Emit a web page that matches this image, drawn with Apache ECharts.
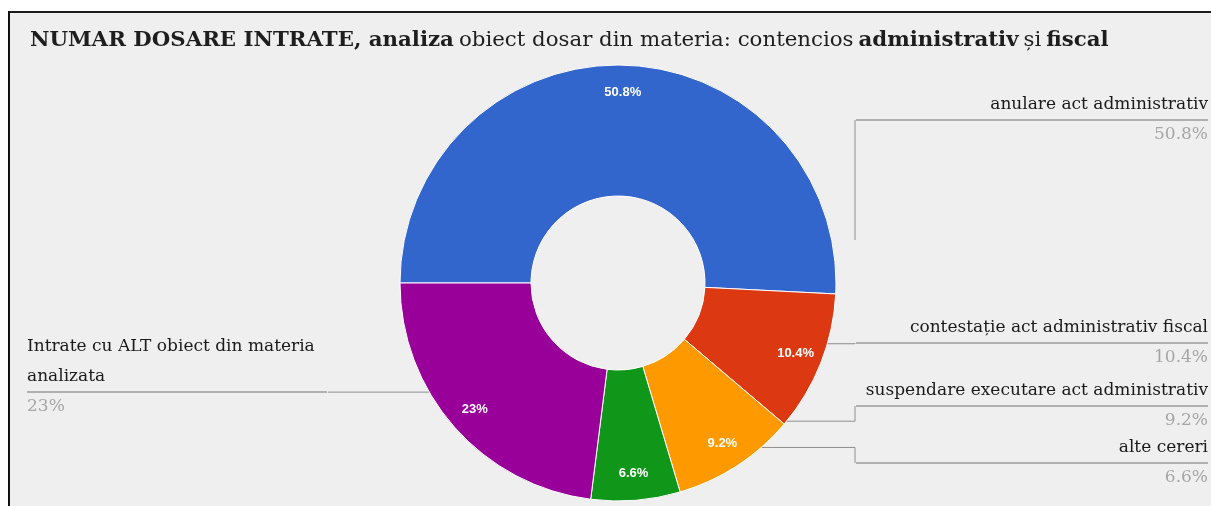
<!DOCTYPE html>
<html>
<head>
<meta charset="utf-8">
<script src="https://cdn.jsdelivr.net/npm/echarts@6/dist/echarts.min.js"></script>
<style>
html,body{margin:0;padding:0;background:#fff;overflow:hidden;}
#chart{position:absolute;left:0;top:0;width:1211px;height:506px;}
#topbar{position:absolute;left:0;top:0;width:1211px;height:11px;background:#fff;border-bottom:2px solid #1c1c1c;}
#leftbar{position:absolute;left:0;top:11px;width:8px;height:495px;background:#fff;border-right:2px solid #111;}
</style>
</head>
<body>
<div id="chart"></div>
<div id="topbar"></div>
<div id="leftbar"></div>
<script>
// ---- data ----
const categories = [
  'anulare act administrativ',
  'contestație act administrativ fiscal',
  'suspendare executare act administrativ',
  'alte cereri',
  'Intrate cu ALT obiect din materia analizata'
];
const shares = [50.8, 10.4, 9.2, 6.6, 23];
const sliceColors = ['#3366cc', '#dc3912', '#ff9900', '#109618', '#990099'];
const titleParts = [
  ['b', 'NUMAR DOSARE INTRATE, analiza'],
  ['n', 'obiect dosar din materia: contencios'],
  ['b', 'administrativ'],
  ['n', 'și'],
  ['b', 'fiscal']
];

// ---- layout (not data) ----
const CENTER = [618, 283];
const START_ANGLE = 180;
const R_IN = 87, R_OUT = 218, R_LEADER = 165;
const labelPlacement = [
  { side: 'right', hrY: 120, dropY: 240, nameLines: 1 },
  { side: 'right', hrY: 343, nameLines: 1 },
  { side: 'right', hrY: 406, nameLines: 1 },
  { side: 'right', hrY: 463, nameLines: 1 },
  { side: 'left', hrY: 392, nameLines: 2 }
];
const LINE_H = 30;
const FS = 17;
const SERIF = '"DejaVu Serif", "Liberation Serif", serif';

const chart = echarts.init(document.getElementById('chart'), null, { renderer: 'canvas' });

const total = shares.reduce((a, b) => a + b, 0);
const midAngles = [];
(function () {
  let cum = 0;
  shares.forEach(v => {
    midAngles.push((START_ANGLE - 360 * (cum + v / 2) / total) * Math.PI / 180);
    cum += v;
  });
})();

const pieData = categories.map((name, i) => {
  const item = { name: name, value: shares[i], itemStyle: { color: sliceColors[i] } };
  if (labelPlacement[i].side === 'left') {
    item.label = { width: 300, formatter: '{nameL|{b}}\n{hr|}\n{perL|{d}%}' };
  }
  return item;
});

function layoutLabel(params) {
  const i = params.dataIndex;
  const p = labelPlacement[i];
  const rect = params.labelRect;
  const W = chart.getWidth();
  const right = p.side === 'right';
  const edgeX = right ? W - 3 : 27;
  const elbowX = right ? edgeX - rect.width : edgeX + rect.width;
  const a = midAngles[i];
  const S = [CENTER[0] + R_LEADER * Math.cos(a), CENTER[1] - R_LEADER * Math.sin(a)];
  let linePts;
  if (p.dropY != null) {
    linePts = [[elbowX, p.dropY], [elbowX, p.hrY]];
  } else {
    linePts = [S, [elbowX, S[1]], [elbowX, p.hrY]];
  }
  return {
    x: edgeX,
    y: p.hrY - LINE_H * p.nameLines,
    align: right ? 'right' : 'left',
    verticalAlign: 'top',
    labelLinePoints: linePts
  };
}

const option = {
  backgroundColor: '#efefef',
  animation: false,
  title: {
    left: 25,
    top: 25,
    text: titleParts.map(t => '{' + t[0] + '|' + t[1] + '}').join(' '),
    textStyle: {
      rich: {
        b: { fontFamily: SERIF, fontSize: 21.3, fontWeight: 'bold', color: '#1e1e1e' },
        n: { fontFamily: SERIF, fontSize: 21.3, fontWeight: 'normal', color: '#1e1e1e' }
      }
    }
  },
  series: [
    {
      type: 'pie',
      center: CENTER,
      radius: [R_IN, R_OUT],
      startAngle: START_ANGLE,
      clockwise: true,
      silent: true,
      emphasis: { disabled: true },
      itemStyle: { borderColor: '#ffffff', borderWidth: 1 },
      label: {
        show: true,
        position: 'outside',
        alignTo: 'edge',
        edgeDistance: 3,
        width: 352,
        overflow: 'break',
        formatter: '{name|{b}}\n{hr|}\n{per|{d}%}',
        rich: {
          name: { fontFamily: SERIF, fontSize: FS, color: '#1a1a1a', lineHeight: LINE_H, align: 'right' },
          nameL: { fontFamily: SERIF, fontSize: FS, color: '#1a1a1a', lineHeight: LINE_H, align: 'left' },
          hr: { borderColor: '#9a9a9a', width: '100%', borderWidth: 1, height: 0 },
          per: { fontFamily: SERIF, fontSize: FS, color: '#a6a6a6', lineHeight: LINE_H, align: 'right' },
          perL: { fontFamily: SERIF, fontSize: FS, color: '#a6a6a6', lineHeight: LINE_H, align: 'left' }
        }
      },
      labelLine: { show: true, length: 5, length2: 5, lineStyle: { color: '#8e8e8e', width: 1 } },
      labelLayout: layoutLabel,
      data: pieData
    },
    {
      type: 'pie',
      center: CENTER,
      radius: [158, R_OUT],
      startAngle: START_ANGLE,
      clockwise: true,
      silent: true,
      emphasis: { disabled: true },
      itemStyle: { color: 'rgba(0,0,0,0)', borderWidth: 0 },
      label: {
        show: true,
        position: 'inside',
        formatter: '{d}%',
        color: '#ffffff',
        fontFamily: '"Liberation Sans", Arial, sans-serif',
        fontWeight: 'bold',
        fontSize: 13
      },
      labelLine: { show: false },
      data: categories.map((name, i) => ({ name: name, value: shares[i] }))
    }
  ]
};
chart.setOption(option);
</script>
</body>
</html>
